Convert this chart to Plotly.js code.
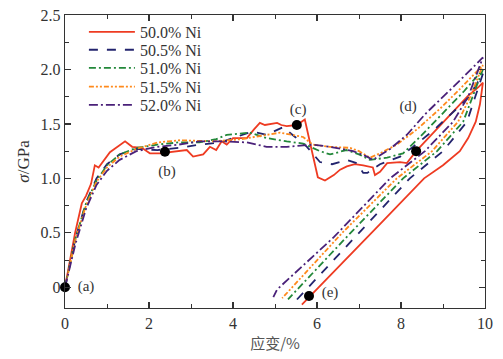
<!DOCTYPE html>
<html>
<head>
<meta charset="utf-8">
<script src="https://cdn.plot.ly/plotly-3.0.1.min.js"></script>
<style>html,body{margin:0;padding:0;background:#fff;}#chart{width:503px;height:359px;}</style>
</head>
<body>
<div id="chart"></div>
<script>
// ---- data ----
const seriesNames = ["50.0% Ni", "50.5% Ni", "51.0% Ni", "51.5% Ni", "52.0% Ni"];

const ni500_x = [0, 0.12, 0.24, 0.4, 0.5, 0.62, 0.71, 0.8, 1.07, 1.43, 1.6, 1.83, 2.02, 2.26, 2.66, 2.9, 3.05, 3.29, 3.45, 3.6, 3.73, 3.85, 4.0, 4.33, 4.5, 4.64, 4.76, 5.05, 5.15, 5.28, 5.52, 5.71, 5.85, 6.02, 6.19, 6.4, 6.55, 6.71, 6.9, 7.1, 7.33, 7.38, 7.5, 7.67, 7.98, 8.14, 8.36, 8.8, 9.2, 9.6, 9.85, 9.95,
                 9.88, 9.78, 9.6, 9.4, 9.0, 8.55, 7.5, 6.5, 5.64];
const ni500_y = [0, 0.25, 0.5, 0.77, 0.84, 0.95, 1.12, 1.1, 1.24, 1.34, 1.29, 1.28, 1.23, 1.23, 1.25, 1.26, 1.2, 1.22, 1.29, 1.26, 1.34, 1.31, 1.37, 1.37, 1.45, 1.51, 1.49, 1.51, 1.49, 1.48, 1.49, 1.54, 1.3, 1.01, 0.98, 1.03, 1.08, 1.11, 1.13, 1.12, 1.1, 1.03, 1.06, 1.14, 1.15, 1.14, 1.25, 1.43, 1.6, 1.76, 1.84, 1.88,
                 1.68, 1.52, 1.37, 1.25, 1.12, 1.0, 0.58, 0.18, -0.16];

const ni505_x = [0, 0.25, 0.5, 0.75, 1.0, 1.3, 1.7, 2.2, 2.7, 3.2, 3.7, 4.1, 4.45, 4.8, 5.19, 5.48, 5.76, 6.07, 6.36, 6.71, 6.95, 7.1, 7.2, 7.5, 7.98, 8.29, 8.8, 9.3, 9.6, 9.95,
                 9.75, 9.57, 9.0, 8.21, 7.0, 5.48];
const ni505_y = [0, 0.45, 0.78, 1.0, 1.13, 1.22, 1.27, 1.26, 1.28, 1.31, 1.33, 1.38, 1.43, 1.40, 1.47, 1.38, 1.29, 1.15, 1.13, 1.17, 1.14, 1.05, 1.05, 1.13, 1.2, 1.29, 1.45, 1.63, 1.74, 1.96,
                 1.72, 1.52, 1.25, 1.0, 0.5, -0.13];

const ni510_x = [0, 0.25, 0.5, 0.75, 1.0, 1.3, 1.7, 2.2, 2.7, 3.2, 3.6, 3.85, 4.4, 4.8, 5.28, 5.67, 6.07, 6.31, 6.7, 7.0, 7.26, 7.67, 8.05, 8.45, 9.0, 9.5, 9.95,
                 9.7, 9.48, 8.86, 8.05, 6.8, 5.31];
const ni510_y = [0, 0.45, 0.77, 0.98, 1.12, 1.22, 1.28, 1.31, 1.33, 1.33, 1.36, 1.40, 1.42, 1.37, 1.34, 1.32, 1.25, 1.22, 1.26, 1.22, 1.17, 1.19, 1.23, 1.38, 1.6, 1.8, 2.0,
                 1.75, 1.52, 1.25, 1.0, 0.5, -0.11];

const ni515_x = [0, 0.25, 0.5, 0.75, 1.0, 1.3, 1.7, 2.2, 2.74, 3.52, 4.2, 4.8, 5.12, 5.67, 5.9, 6.31, 6.79, 7.0, 7.26, 7.5, 7.9, 8.38, 8.93, 9.4, 9.95,
                 9.65, 9.36, 8.74, 7.9, 6.6, 5.17];
const ni515_y = [0, 0.44, 0.75, 0.97, 1.1, 1.2, 1.27, 1.33, 1.35, 1.34, 1.36, 1.40, 1.42, 1.38, 1.31, 1.29, 1.28, 1.25, 1.19, 1.23, 1.31, 1.45, 1.64, 1.82, 2.04,
                 1.75, 1.52, 1.25, 1.0, 0.5, -0.1];

const ni520_x = [0, 0.25, 0.5, 0.75, 1.0, 1.3, 1.7, 2.2, 2.7, 3.2, 3.76, 4.33, 4.8, 5.28, 5.9, 6.31, 6.86, 7.19, 7.33, 7.74, 8.14, 8.6, 9.3, 9.95,
                 9.6, 9.24, 8.57, 7.74, 6.4, 5.05, 4.96];
const ni520_y = [0, 0.4, 0.72, 0.94, 1.07, 1.17, 1.25, 1.29, 1.31, 1.34, 1.34, 1.33, 1.29, 1.29, 1.31, 1.29, 1.25, 1.2, 1.17, 1.27, 1.4, 1.6, 1.86, 2.11,
                 1.75, 1.52, 1.25, 1.0, 0.46, -0.02, -0.09];

const pointLabels = ["(a)", "(b)", "(c)", "(d)", "(e)"];
const point_x = [0, 2.38, 5.52, 8.36, 5.81];
const point_y = [0, 1.245, 1.49, 1.25, -0.08];
const label_x = [0.5, 2.43, 5.55, 8.17, 6.31];
const label_y = [0.0, 1.06, 1.63, 1.65, -0.05];

const xTickVals = [0, 2, 4, 6, 8, 10];
const xTickText = ["0", "2", "4", "6", "8", "10"];
const yTickVals = [0, 0.5, 1.0, 1.5, 2.0, 2.5];
const yTickText = ["0", "0.5", "1.0", "1.5", "2.0", "2.5"];

// ---- styles ----
const colors = ["#ee3b22", "#23246e", "#23883a", "#ff8a1c", "#4a2179"];
const dashes = ["solid", "dash", "7px,3px,2px,3px", "5px,2px,2px,2px,2px,2px", "9px,3px,2px,3px"];
const xs = [ni500_x, ni505_x, ni510_x, ni515_x, ni520_x];
const ys = [ni500_y, ni505_y, ni510_y, ni515_y, ni520_y];
const legendRowY = [0.942, 0.881, 0.819, 0.755, 0.693];

const serif = "Liberation Serif, DejaVu Serif, serif";
const traces = [];
const layoutLegends = {};
for (let i = 0; i < 5; i++) {
  const lname = i === 0 ? "legend" : "legend" + (i + 1);
  traces.push({
    x: xs[i], y: ys[i], name: seriesNames[i], type: "scatter", mode: "lines",
    line: {color: colors[i], width: 1.8, dash: dashes[i]}, cliponaxis: true,
    legend: lname
  });
  layoutLegends[lname] = {
    x: 0.045, y: legendRowY[i], xanchor: "left", yanchor: "middle",
    bgcolor: "rgba(0,0,0,0)", borderwidth: 0,
    font: {family: serif, size: 16, color: "#333"},
    itemwidth: 46
  };
}
traces.push({
  x: point_x, y: point_y, type: "scatter", mode: "markers", showlegend: false,
  marker: {color: "#000", size: 10}, cliponaxis: false, hoverinfo: "skip"
});
traces.push({
  x: label_x, y: label_y, text: pointLabels, type: "scatter", mode: "text", showlegend: false,
  textfont: {family: serif, size: 15, color: "#333"}, cliponaxis: false, hoverinfo: "skip"
});

const axisCommon = {
  showline: true, linecolor: "#333", linewidth: 1.4, mirror: "ticks",
  ticks: "inside", ticklen: 6, tickwidth: 1.2, tickcolor: "#333",
  showgrid: false, zeroline: false,
  tickfont: {family: serif, size: 16, color: "#333"}
};

const layout = Object.assign({
  width: 503, height: 359,
  margin: {l: 65, r: 18, t: 15, b: 51},
  paper_bgcolor: "#fff", plot_bgcolor: "#fff",
  showlegend: true,
  xaxis: Object.assign({}, axisCommon, {
    range: [0, 10], tickvals: xTickVals, ticktext: xTickText,
    minor: {ticks: "inside", ticklen: 4, dtick: 1, tickcolor: "#333", tickwidth: 1},
    title: {text: "应变/%", font: {family: "Noto Sans CJK SC, " + serif, size: 15, color: "#555"}, standoff: 8}
  }),
  yaxis: Object.assign({}, axisCommon, {
    range: [-0.19, 2.5], tickvals: yTickVals, ticktext: yTickText,
    minor: {ticks: "inside", ticklen: 4, dtick: 0.25, tick0: 0, tickcolor: "#333", tickwidth: 1},
    title: {text: "<i>σ</i>/GPa", font: {family: serif, size: 17, color: "#333"}, standoff: 6}
  })
}, layoutLegends);

Plotly.newPlot("chart", traces, layout, {displayModeBar: false, staticPlot: true});
</script>
</body>
</html>
